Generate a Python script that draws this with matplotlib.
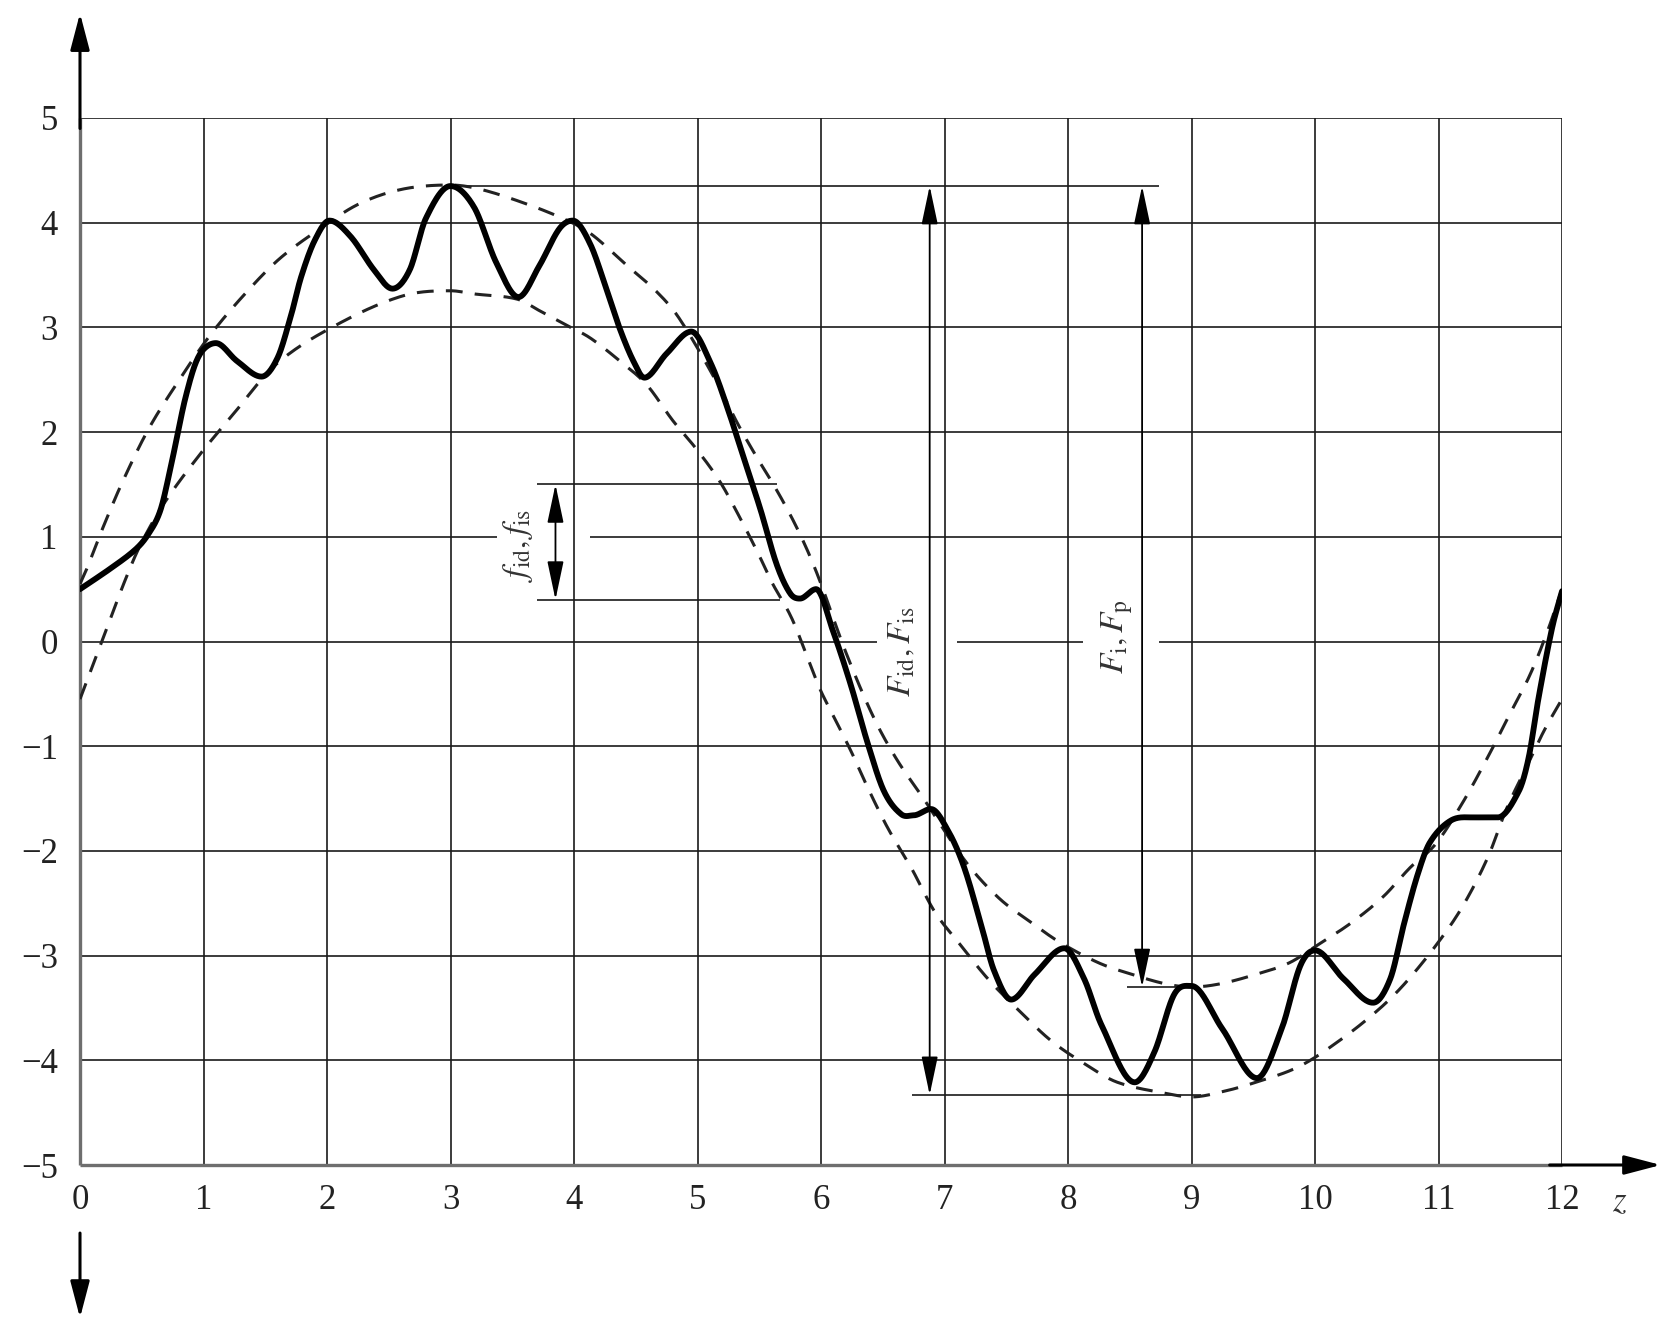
import numpy as np
import matplotlib
matplotlib.use("Agg")
import matplotlib.pyplot as plt
from matplotlib.patches import ArrowStyle

plt.rcParams['font.family'] = ['Liberation Serif', 'DejaVu Serif']
plt.rcParams['mathtext.fontset'] = 'stix'

# grid / tick values
x_ticks = list(range(0, 13))
y_ticks = list(range(-5, 6))

solid_x = [0.0, 0.25, 0.45, 0.55, 0.65, 0.73, 0.79, 0.85, 0.93, 1.0, 1.1, 1.27, 1.47,
           1.6, 1.71, 1.79, 1.9, 2.02, 2.19, 2.38, 2.53, 2.67, 2.8, 3.0, 3.19, 3.37,
           3.55, 3.72, 3.88, 3.99, 4.13, 4.27, 4.37, 4.48, 4.57, 4.75, 4.95, 5.11,
           5.24, 5.37, 5.51, 5.64, 5.75, 5.83, 5.96, 6.1, 6.24, 6.38, 6.51, 6.65,
           6.75, 6.89, 7.03, 7.16, 7.3, 7.4, 7.54, 7.73, 7.97, 8.13, 8.27, 8.54,
           8.7, 8.86, 9.0, 9.25, 9.53, 9.73, 9.88, 10.0, 10.23, 10.47, 10.61, 10.72,
           10.83, 10.93, 11.1, 11.27, 11.48, 11.65, 11.73, 11.81, 11.92, 12.0]
solid_y = [0.50, 0.70, 0.88, 1.02, 1.25, 1.64, 1.98, 2.31, 2.64, 2.79, 2.85, 2.68, 2.53,
           2.71, 3.12, 3.48, 3.83, 4.02, 3.87, 3.55, 3.37, 3.55, 4.04, 4.35, 4.15, 3.62,
           3.29, 3.59, 3.94, 4.02, 3.80, 3.34, 2.99, 2.68, 2.52, 2.75, 2.96, 2.65,
           2.24, 1.77, 1.26, 0.74, 0.46, 0.41, 0.50, 0.09, -0.41, -0.98, -1.43, -1.65,
           -1.66, -1.60, -1.81, -2.16, -2.72, -3.14, -3.42, -3.18, -2.93, -3.22, -3.66, -4.21,
           -3.92, -3.37, -3.29, -3.70, -4.17, -3.70, -3.10, -2.95, -3.22, -3.45, -3.22, -2.70,
           -2.23, -1.92, -1.71, -1.68, -1.68, -1.43, -1.11, -0.54, 0.13, 0.48]

# upper envelope (dashed)
upper_x = [0.0, 0.05, 0.19, 0.35, 0.56, 0.81, 1.05, 1.32, 1.61, 1.94, 2.26, 2.61, 3.0,
           3.24, 3.59, 3.91, 4.13, 4.43, 4.67, 4.85, 5.14, 5.33, 5.49, 5.6, 5.76, 5.89,
           6.0, 6.2, 6.42, 6.61, 6.83, 7.17, 7.44, 7.71, 7.93, 8.25, 8.52, 8.79, 9.0,
           9.23, 9.52, 9.79, 10.02, 10.29, 10.55, 10.77, 10.98, 11.2, 11.41, 11.57,
           11.74, 11.88, 12.0]
upper_y = [0.55, 0.68, 1.10, 1.54, 2.04, 2.51, 2.92, 3.30, 3.65, 3.94, 4.18, 4.32, 4.36,
           4.32, 4.19, 4.04, 3.90, 3.59, 3.34, 3.09, 2.51, 2.07, 1.74, 1.53, 1.19, 0.87,
           0.55, -0.10, -0.71, -1.12, -1.50, -2.10, -2.45, -2.69, -2.87, -3.07, -3.18, -3.27, -3.30,
           -3.27, -3.18, -3.07, -2.90, -2.69, -2.44, -2.16, -1.93, -1.53, -1.08, -0.71,
           -0.32, 0.09, 0.50]

# lower envelope (dashed)
lower_x = [0.0, 0.19, 0.35, 0.48, 0.67, 0.94, 1.24, 1.59, 2.07, 2.61, 3.0, 3.19, 3.54,
           3.72, 3.94, 4.13, 4.37, 4.59, 4.8, 4.99, 5.18, 5.34, 5.5, 5.6, 5.76, 5.89,
           5.99, 6.1, 6.24, 6.38, 6.54, 6.73, 6.92, 7.11, 7.35, 7.59, 7.86, 8.13, 8.4,
           8.81, 9.0, 9.25, 9.52, 9.87, 10.2, 10.52, 10.74, 11.0, 11.2, 11.4, 11.55,
           11.72, 11.86, 12.0]
lower_y = [-0.55, 0.04, 0.54, 0.90, 1.30, 1.74, 2.17, 2.65, 3.02, 3.30, 3.35, 3.32, 3.27,
           3.16, 3.02, 2.90, 2.68, 2.45, 2.11, 1.84, 1.53, 1.19, 0.82, 0.57, 0.23, -0.15,
           -0.45, -0.71, -1.04, -1.40, -1.78, -2.16, -2.58, -2.87, -3.22, -3.51, -3.81, -4.03, -4.21,
           -4.32, -4.35, -4.30, -4.21, -4.06, -3.81, -3.51, -3.25, -2.87, -2.52, -2.06, -1.60,
           -1.18, -0.84, -0.55]

# dimension levels
f_top, f_bot = 1.5, 0.4
F_top, F_bot = 4.35, -4.33
Fp_bot = -3.3


def smooth(xs, ys, n=25):
    # cubic hermite through the read points (only used to draw a smooth stroke)
    x = np.asarray(xs, float)
    y = np.asarray(ys, float)
    h = np.diff(x)
    d = np.diff(y) / h
    m = np.zeros_like(x)
    m[0], m[-1] = d[0], d[-1]
    for k in range(1, len(x) - 1):
        if d[k - 1] * d[k] <= 0:
            m[k] = 0.0   # keep peaks/troughs flat on top
        else:
            m[k] = (y[k + 1] - y[k - 1]) / (x[k + 1] - x[k - 1])
    px, py = [], []
    for k in range(len(x) - 1):
        t = np.linspace(0, 1, n, endpoint=False)
        h00 = 2 * t**3 - 3 * t**2 + 1
        h10 = t**3 - 2 * t**2 + t
        h01 = -2 * t**3 + 3 * t**2
        h11 = t**3 - t**2
        px.append(x[k] + t * h[k])
        py.append(h00 * y[k] + h10 * h[k] * m[k] + h01 * y[k + 1] + h11 * h[k] * m[k + 1])
    px.append([x[-1]])
    py.append([y[-1]])
    return np.concatenate(px), np.concatenate(py)


W, H = 1660, 1319
fig = plt.figure(figsize=(W / 100, H / 100), dpi=100)
L, R, T, B = 80, 1562, 118, 1165
ax = fig.add_axes([L / W, 1 - B / H, (R - L) / W, (B - T) / H])
ax.set_xlim(0, 12)
ax.set_ylim(-5, 5)
for s in ax.spines.values():
    s.set_visible(False)

grid_kw = dict(color='#1a1a1a', lw=1.2, zorder=1)

# vertical grid lines
ax.vlines(x_ticks[1:], -5, 5, **grid_kw)

# horizontal grid lines (some broken around labels)
gaps = {1: [(3.38, 4.13)], 0: [(6.45, 7.10), (8.12, 8.74)]}
for yv in y_ticks[1:]:
    start = 0
    for g0, g1 in gaps.get(yv, []):
        ax.hlines(yv, start, g0, **grid_kw)
        start = g1
    ax.hlines(yv, start, 12, **grid_kw)

# axes (grey, thicker) with arrows
axis_kw = dict(color='#6e6e6e', lw=2.4, zorder=2, clip_on=False)
ax.plot([0, 0], [-5, 5], solid_capstyle='butt', **axis_kw)
ax.plot([0, 12], [-5, -5], solid_capstyle='butt', **axis_kw)

big_arrow = ArrowStyle('-|>', head_length=1.6, head_width=0.42)
ax.annotate('', xy=(0, 6.0), xytext=(0, 4.9), annotation_clip=False,
            arrowprops=dict(arrowstyle=big_arrow, color='black', lw=2.2,
                            mutation_scale=14, shrinkA=0, shrinkB=0))
ax.annotate('', xy=(0, -6.46), xytext=(0, -5.65), annotation_clip=False,
            arrowprops=dict(arrowstyle=big_arrow, color='black', lw=2.2,
                            mutation_scale=14, shrinkA=0, shrinkB=0))
ax.annotate('', xy=(12.8, -5), xytext=(11.9, -5), annotation_clip=False,
            arrowprops=dict(arrowstyle=big_arrow, color='black', lw=2.2,
                            mutation_scale=14, shrinkA=0, shrinkB=0))

# tick labels
ax.set_xticks(x_ticks)
ax.set_xticklabels([str(v) for v in x_ticks])
ax.set_yticks(y_ticks)
ax.set_yticklabels([str(v).replace('-', '\u2212') for v in y_ticks])
ax.tick_params(length=0, labelsize=25, colors='#222222')
ax.tick_params(axis='x', pad=14)
ax.tick_params(axis='y', pad=16)
ax.text(12.47, -5.36, r'$z$', fontsize=25, ha='center', va='center', color='#333333')

# envelopes and profile
ux, uy = smooth(upper_x, upper_y)
lx, ly = smooth(lower_x, lower_y)
sx, sy = smooth(solid_x, solid_y)
ax.plot(ux, uy, color='#222222', lw=2.2, dashes=(5.5, 4), zorder=3)
ax.plot(lx, ly, color='#222222', lw=2.2, dashes=(5.5, 4), zorder=3)
ax.plot(sx, sy, color='black', lw=4.2, zorder=4, solid_capstyle='round',
        solid_joinstyle='round')

# dimension lines
dim_kw = dict(color='#1a1a1a', lw=1.2, zorder=2)
ax.hlines(f_top, 3.70, 5.64, **dim_kw)
ax.hlines(f_bot, 3.70, 5.67, **dim_kw)
ax.hlines(F_top, 3.04, 8.74, **dim_kw)
ax.hlines(F_bot, 6.74, 9.08, **dim_kw)
ax.hlines(Fp_bot, 8.48, 9.0, **dim_kw)

small_arrow = ArrowStyle('<|-|>', head_length=1.7, head_width=0.36)
for xa, y0, y1 in [(3.85, f_bot, f_top), (6.88, F_bot, F_top), (8.6, Fp_bot, F_top)]:
    ax.annotate('', xy=(xa, y1), xytext=(xa, y0),
                arrowprops=dict(arrowstyle=small_arrow, color='black', lw=1.3,
                                mutation_scale=14, shrinkA=0, shrinkB=0), zorder=3)

lab_kw = dict(rotation=90, ha='center', va='center', fontsize=24, color='#333333')
ax.text(3.55, 0.92, r'$f_{\mathrm{id}}, f_{\mathrm{is}}$', **lab_kw)
ax.text(6.66, -0.10, r'$F_{\mathrm{id}}, F_{\mathrm{is}}$', **lab_kw)
ax.text(8.40, 0.05, r'$F_{\mathrm{i}}, F_{\mathrm{p}}$', **lab_kw)

fig.savefig('out.png', dpi=100, facecolor='white')
